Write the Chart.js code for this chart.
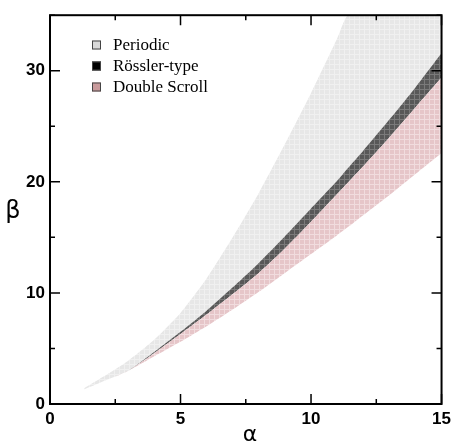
<!DOCTYPE html>
<html>
<head>
<meta charset="utf-8">
<script src="https://cdn.jsdelivr.net/npm/chart.js@4/dist/chart.umd.min.js"></script>
<style>
  html, body { margin: 0; padding: 0; background: #fff; }
  #wrap { width: 456px; height: 448px; }
</style>
</head>
<body>
<div id="wrap"><canvas id="myChart" width="456" height="448"></canvas></div>
<script>
// alpha grid and boundaries of each region
const alpha       = [1.3, 2,    3,   4,   5,   6,    7,    8,    9,    10,   11,   11.4, 12,   13,   14,   15];
const scrollLow   = [1.3, 2.0,  3.0, 4.3, 5.6, 7.0,  8.5,  10.1, 11.8, 13.5, 15.2, 15.9, 17.0, 18.8, 20.7, 22.6];
const scrollHigh  = [1.3, 2.0,  3.0, 4.6, 6.3, 8.05, 9.9,  11.8, 14.0, 16.4, 18.9, 19.9, 21.4, 24.0, 26.7, 29.4];
const rosslerHigh = [1.3, 2.0,  3.0, 4.7, 6.5, 8.4,  10.5, 12.7, 15.1, 17.6, 20.1, 21.2, 22.8, 25.6, 28.5, 31.6];
const periodicHigh= [1.4, 2.4,  3.9, 5.8, 8.2, 11.3, 15.0, 19.0, 23.4, 28.0, 32.9, 35,   35,   35,   35,   35];

const legendLabels = ['Periodic', 'Rössler-type', 'Double Scroll'];
const legendColors = ['#d9d9d9', '#000000', '#c99a9c'];

const xTicksMajor = [0, 5, 10, 15];
const yTicksMajor = [0, 10, 20, 30];

function pts(ys) {
  return alpha.map((a, i) => ({ x: a, y: ys[i] }));
}

// fine white hatch like the original plot
function hatch(base, line) {
  const c = document.createElement('canvas');
  c.width = 5; c.height = 5;
  const g = c.getContext('2d');
  g.fillStyle = base;
  g.fillRect(0, 0, 5, 5);
  g.fillStyle = line;
  g.fillRect(4, 0, 1, 5);
  g.fillRect(0, 4, 5, 1);
  return g.createPattern(c, 'repeat');
}

const framePlugin = {
  id: 'frame',
  afterDraw(chart) {
    const ctx = chart.ctx;
    const a = chart.chartArea;
    const xs = chart.scales.x, ys = chart.scales.y;
    ctx.save();
    ctx.strokeStyle = '#000';
    ctx.lineWidth = 2;
    ctx.strokeRect(a.left, a.top, a.right - a.left, a.bottom - a.top);
    ctx.lineWidth = 1.5;
    ctx.beginPath();
    xs.ticks.forEach(t => {
      const px = xs.getPixelForValue(t.value);
      const len = xTicksMajor.includes(t.value) ? 10 : 5;
      ctx.moveTo(px, a.bottom); ctx.lineTo(px, a.bottom - len);
      ctx.moveTo(px, a.top); ctx.lineTo(px, a.top + len);
    });
    ys.ticks.forEach(t => {
      const py = ys.getPixelForValue(t.value);
      const len = yTicksMajor.includes(t.value) ? 10 : 5;
      ctx.moveTo(a.left, py); ctx.lineTo(a.left + len, py);
      ctx.moveTo(a.right, py); ctx.lineTo(a.right - len, py);
    });
    ctx.stroke();

    // axis titles
    ctx.fillStyle = '#000';
    ctx.textAlign = 'center';
    ctx.textBaseline = 'middle';
    ctx.font = '24px "DejaVu Sans"';
    ctx.fillText('β', 13, 212);
    ctx.font = '22px "DejaVu Sans"';
    ctx.fillText('α', 250, 435);

    // legend
    ctx.font = '17px "Liberation Serif"';
    ctx.textAlign = 'left';
    legendLabels.forEach((lab, i) => {
      const cy = 45 + i * 21;
      ctx.fillStyle = legendColors[i];
      ctx.fillRect(92, cy - 4.5, 9, 9);
      ctx.lineWidth = 1;
      ctx.strokeStyle = '#444';
      ctx.strokeRect(92.5, cy - 4, 8, 8);
      ctx.fillStyle = '#000';
      ctx.fillText(lab, 113, cy + 1);
    });
    ctx.restore();
  }
};

const ctx = document.getElementById('myChart').getContext('2d');
const base = { showLine: true, pointRadius: 0, borderWidth: 0, tension: 0.2 };

const myChart = new Chart(ctx, {
  type: 'scatter',
  data: {
    datasets: [
      { ...base, label: 'low', data: pts(scrollLow), fill: false },
      { ...base, label: 'Double Scroll', data: pts(scrollHigh), fill: '-1',
        backgroundColor: hatch('#e6c6c9', '#f1dcde') },
      { ...base, label: 'Rössler-type', data: pts(rosslerHigh), fill: '-1',
        backgroundColor: hatch('#585858', '#7a7a7a') },
      { ...base, label: 'Periodic', data: pts(periodicHigh), fill: '-1',
        backgroundColor: hatch('#e7e7e7', '#f0f0f0') }
    ]
  },
  options: {
    responsive: false,
    animation: false,
    layout: { padding: { top: 8, right: 10, left: 0, bottom: 0 } },
    plugins: {
      legend: { display: false },
      tooltip: { enabled: false }
    },
    scales: {
      x: {
        type: 'linear',
        min: 0, max: 15,
        grid: { display: false, drawTicks: false },
        border: { display: false },
        afterFit(s) { s.height = 44; },
        ticks: {
          stepSize: 2.5,
          padding: 5,
          color: '#000',
          font: { family: '"Liberation Sans"', size: 17, weight: 'bold' },
          maxRotation: 0,
          autoSkip: false,
          callback: v => (xTicksMajor.includes(v) ? String(v) : '')
        }
      },
      y: {
        min: 0, max: 35,
        grid: { display: false, drawTicks: false },
        border: { display: false },
        afterFit(s) { s.width = 50; },
        ticks: {
          stepSize: 5,
          padding: 5,
          color: '#000',
          font: { family: '"Liberation Sans"', size: 17, weight: 'bold' },
          autoSkip: false,
          callback: v => (yTicksMajor.includes(v) ? String(v) : '')
        }
      }
    }
  },
  plugins: [framePlugin]
});
</script>
</body>
</html>
